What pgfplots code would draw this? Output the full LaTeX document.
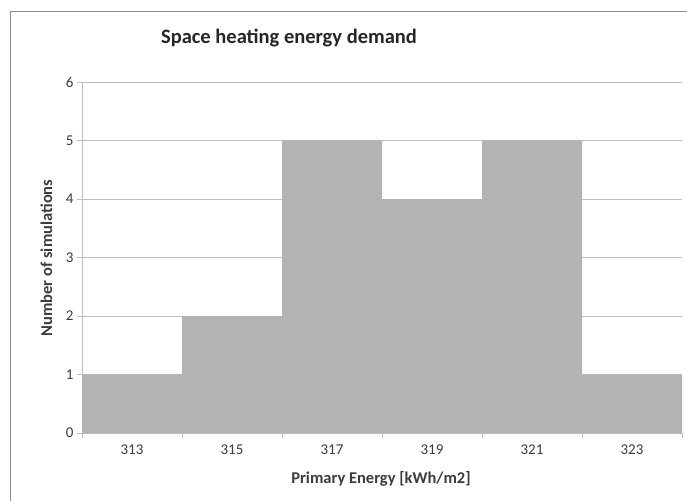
\documentclass[border=0pt]{standalone}
\usepackage{pgfplots}
\pgfplotsset{compat=1.18}
\usepackage{fontspec}
\setmainfont{Carlito}
\definecolor{barGray}{RGB}{179,179,179}
\definecolor{gridGray}{RGB}{190,190,190}
\definecolor{frameGray}{RGB}{140,140,140}
\definecolor{txtGray}{RGB}{60,60,60}
\begin{document}
\begin{tikzpicture}[x=1pt,y=1pt]
\useasboundingbox (0,0) rectangle (687,501);
\draw[frameGray, line width=1pt] (10,0) -- (10,489) -- (690,489);
\begin{axis}[
  at={(82pt,68pt)}, anchor=south west,
  scale only axis, width=600pt, height=351pt,
  xmin=0, xmax=6, ymin=0, ymax=6,
  axis x line=bottom, axis y line=left,
  axis line style={gridGray, -},
  xtick={0.5,1.5,2.5,3.5,4.5,5.5},
  xticklabels={313,315,317,319,321,323},
  minor xtick={0,1,2,3,4,5,6},
  ytick={0,1,2,3,4,5,6},
  tick align=outside,
  major tick length=5pt, minor tick length=5pt,
  major x tick style={draw=none},
  minor x tick style={gridGray},
  major y tick style={gridGray},
  ymajorgrids, major grid style={gridGray, line width=0.8pt},
  /pgf/number format/assume math mode=true,
  ticklabel style={font=\fontsize{15}{18}\selectfont, text=txtGray},
  xticklabel style={yshift=-3pt},
]
\addplot[const plot, fill=barGray, draw=none] coordinates {
  (0,1) (1,2) (2,5) (3,4) (4,5) (5,1) (6,1)
} \closedcycle;
\end{axis}
\node[anchor=base, font=\bfseries\fontsize{20.5}{24}\selectfont, text=black!85] at (289,457) {Space heating energy demand};
\node[anchor=base, font=\bfseries\fontsize{16.5}{20}\selectfont, text=txtGray] at (381,18) {Primary Energy [kWh/m2]};
\node[anchor=base, rotate=90, font=\bfseries\fontsize{16.5}{20}\selectfont, text=txtGray] at (52,243) {Number of simulations};
\end{tikzpicture}
\end{document}
